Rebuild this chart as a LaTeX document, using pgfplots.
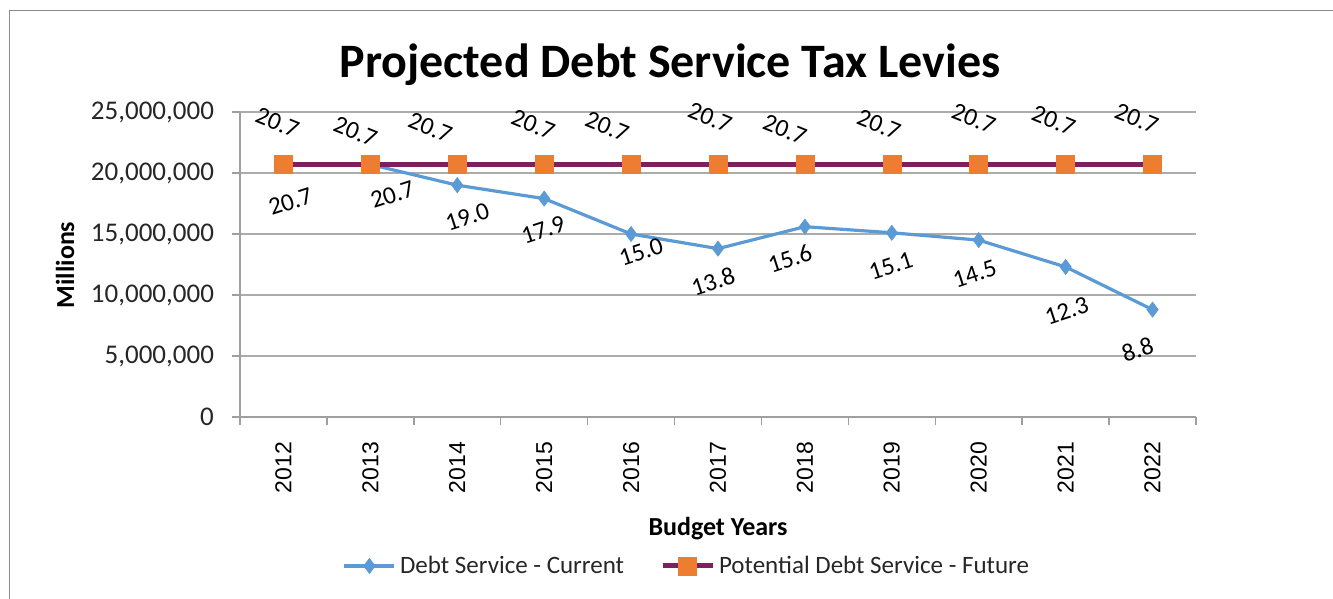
\documentclass[border=0pt]{standalone}
\usepackage{fontspec}
\setmainfont{Carlito}
\newfontfamily\arialfont{Liberation Sans}
\usepackage{pgfplots}
\pgfplotsset{compat=1.18}
\usepackage{pgfplotstable}
\definecolor{serblue}{RGB}{91,155,213}
\definecolor{serorange}{RGB}{237,125,49}
\definecolor{serpurple}{RGB}{126,32,96}
\definecolor{framegray}{RGB}{140,140,140}

\pgfplotstableread{
x y lab dx dy
0 20700000 20.7 3.5 -18.5
1 20700000 20.7 11 -15
2 19000000 19.0 5 -16
3 17900000 17.9 -0.5 -15.5
4 15000000 15.0 5 -9
5 13800000 13.8 -2.5 -16.5
6 15600000 15.6 -7.5 -16
7 15100000 15.1 -0.5 -16.5
8 14500000 14.5 -2 -17
9 12300000 12.3 0.5 -22
10 8800000 8.8 -7.5 -20
}\bluedata

\pgfplotstableread{
x y lab dx dy
0 20700000 20.7 -3 21
1 20700000 20.7 -7.5 16.5
2 20700000 20.7 -13.5 18.5
3 20700000 20.7 -5.5 20
4 20700000 20.7 -12 19
5 20700000 20.7 -4 23.5
6 20700000 20.7 -10 17.5
7 20700000 20.7 -6.5 20
8 20700000 20.7 -2.5 23
9 20700000 20.7 -6 22
10 20700000 20.7 -8 23
}\orangedata

\begin{document}
\begin{tikzpicture}
\path[use as bounding box] (-120pt,-91pt) rectangle (546.5pt,208.5pt);
\draw[framegray, line width=0.75pt] (-115.25pt,-100pt) -- (-115.25pt,203.25pt) -- (560pt,203.25pt);
\begin{axis}[
  at={(0,0)}, anchor=south west,
  scale only axis, width=478pt, height=152.5pt,
  xmin=-0.5, xmax=10.5, ymin=0, ymax=25000000,
  xtick={-0.5,0.5,1.5,2.5,3.5,4.5,5.5,6.5,7.5,8.5,9.5,10.5},
  xticklabels={2012,2013,2014,2015,2016,2017,2018,2019,2020,2021,2022},
  x tick label as interval,
  ytick={0,5000000,10000000,15000000,20000000,25000000},
  scaled y ticks=false,
  axis lines*=left,
  axis line style={draw=gray!75, line width=0.75pt},
  tick align=outside,
  major tick length=4pt,
  tick style={draw=gray!75, line width=0.75pt},
  ymajorgrids,
  grid style={draw=gray!65, line width=0.6pt},
  clip=false,
  xticklabel style={rotate=90, anchor=east, font=\arialfont\fontsize{11.5}{13}\selectfont, text=black},
  xticklabel shift=5pt,
  yticklabel style={/pgf/number format/fixed, /pgf/number format/1000 sep={,},
     /pgf/number format/assume math mode=true,
     font=\fontsize{13.5}{15}\selectfont, text=black!85},
  yticklabel shift=5.5pt,
  legend style={at={(0.4686,-0.4885)}, anchor=center, legend columns=2, draw=none, fill=none,
     font=\fontsize{12.5}{14}\selectfont, text=black!85,
     /tikz/every even column/.append style={column sep=16pt}},
  legend image code/.code={\draw[mark repeat=2, mark phase=2] plot coordinates {(0pt,0pt)(12.5pt,0pt)(25pt,0pt)};},
]
\addplot[serblue, line width=1.6pt, mark=diamond*, mark size=3.8pt,
  mark options={fill=serblue, draw=serblue, line width=0.3pt},
  nodes near coords, point meta=explicit symbolic,
  visualization depends on={\thisrow{dx}\as\dx},
  visualization depends on={\thisrow{dy}\as\dy},
  every node near coord/.append style={anchor=center, xshift=\dx*1pt, yshift=\dy*1pt, rotate=18,
     font=\fontsize{12.5}{14}\selectfont, text=black, inner sep=0pt}]
  table[x=x, y=y, meta=lab]{\bluedata};
\addlegendentry{Debt Service - Current}
\addplot[serpurple, line width=2.5pt, mark=square*, mark size=4.5pt,
  mark options={fill=serorange, draw=serorange, line width=0.3pt},
  nodes near coords, point meta=explicit symbolic,
  visualization depends on={\thisrow{dx}\as\dx},
  visualization depends on={\thisrow{dy}\as\dy},
  every node near coord/.append style={anchor=center, xshift=\dx*1pt, yshift=\dy*1pt, rotate=-22,
     font=\fontsize{12.5}{14}\selectfont, text=black, inner sep=0pt}]
  table[x=x, y=y, meta=lab]{\orangedata};
\addlegendentry{Potential Debt Service - Future}
\end{axis}
\node[anchor=base, font=\bfseries\fontsize{24}{28}\selectfont, text=black] at (215pt,169.5pt) {Projected Debt Service Tax Levies};
\node[rotate=90, font=\bfseries\fontsize{13}{15}\selectfont, text=black] at (-87.5pt,76pt) {Millions};
\node[anchor=base, font=\bfseries\fontsize{13}{15}\selectfont, text=black] at (239pt,-59.5pt) {Budget Years};
\end{tikzpicture}
\end{document}
